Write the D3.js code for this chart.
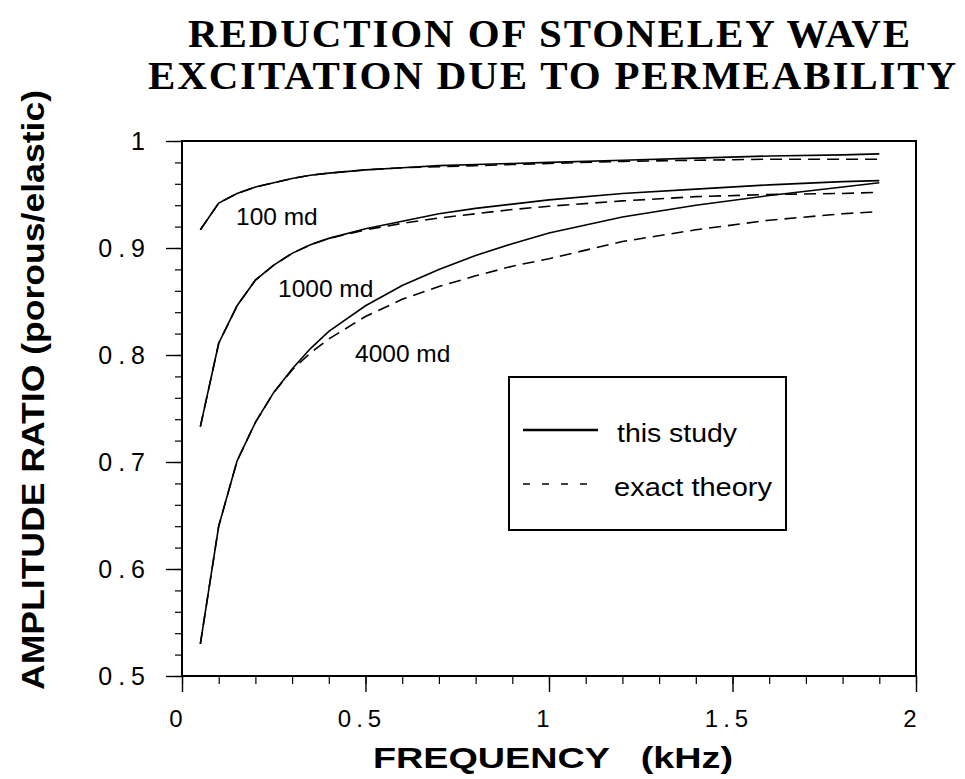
<!DOCTYPE html>
<html><head><meta charset="utf-8">
<script src="https://cdn.jsdelivr.net/npm/d3@7"></script>
<style>body{margin:0;background:#fff}</style>
</head><body>
<svg id="c" width="965" height="779"></svg>
<script>
// ---- data ----
const freqSolid = [0.05,0.1,0.15,0.2,0.25,0.3,0.35,0.4,0.5,0.6,0.7,0.8,0.9,1.0,1.2,1.4,1.6,1.8,1.9];
const md100Study  = [0.917,0.942,0.951,0.957,0.961,0.965,0.968,0.970,0.973,0.975,0.977,0.978,0.979,0.980,0.982,0.984,0.986,0.987,0.988];
const md100Exact  = [0.917,0.942,0.951,0.957,0.961,0.965,0.968,0.970,0.973,0.975,0.976,0.977,0.978,0.979,0.981,0.982,0.983,0.983,0.983];
const md1000Study = [0.733,0.811,0.846,0.870,0.884,0.895,0.903,0.909,0.918,0.925,0.932,0.937,0.941,0.945,0.951,0.955,0.959,0.962,0.963];
const md1000Exact = [0.733,0.811,0.846,0.870,0.884,0.895,0.903,0.909,0.917,0.923,0.928,0.932,0.936,0.939,0.944,0.948,0.950,0.951,0.952];
const md4000Study = [0.530,0.640,0.701,0.737,0.765,0.787,0.806,0.822,0.846,0.865,0.880,0.893,0.904,0.914,0.929,0.940,0.949,0.957,0.961];
const md4000Exact = [0.530,0.640,0.701,0.737,0.765,0.786,0.802,0.815,0.836,0.852,0.864,0.874,0.883,0.890,0.906,0.917,0.926,0.932,0.934];
const curveLabels = ["100 md","1000 md","4000 md"];
const xTicks = [0,0.5,1,1.5,2];
const xTickLabels = ["0","0.5","1","1.5","2"];
const yTicks = [0.5,0.6,0.7,0.8,0.9,1];
const yTickLabels = ["0.5","0.6","0.7","0.8","0.9","1"];
const legendLabels = ["this study","exact theory"];
const titleLines = ["REDUCTION OF STONELEY WAVE","EXCITATION DUE TO PERMEABILITY"];
const xTitle = "FREQUENCY   (kHz)";
const yTitle = "AMPLITUDE RATIO (porous/elastic)";

// ---- layout ----
const svg = d3.select("#c");
const L=182, R=916, T=141, B=676;
const x = d3.scaleLinear().domain([0,2]).range([L,R]);
const y = d3.scaleLinear().domain([0.5,1]).range([B,T]);
const sans = "'Liberation Sans', Arial, Helvetica, sans-serif";
const serif = "'Liberation Serif', 'Times New Roman', serif";

// title
const tpos = [{x1:188,x2:910,y:47},{x1:148,x2:956,y:89}];
titleLines.forEach((t,i)=>{
  svg.append("text").attr("x",tpos[i].x1).attr("y",tpos[i].y)
    .attr("font-family",serif).attr("font-weight","bold").attr("font-size",41)
    .attr("textLength",tpos[i].x2-tpos[i].x1).attr("lengthAdjust","spacing")
    .text(t);
});

// frame
svg.append("rect").attr("x",L).attr("y",T).attr("width",R-L).attr("height",B-T)
  .attr("fill","none").attr("stroke","#000").attr("stroke-width",2);

// x axis ticks
const xAxis = d3.axisBottom(x).tickValues(d3.range(0,2.0001,0.1)).tickSize(8).tickFormat("");
const gx = svg.append("g").attr("transform",`translate(0,${B})`).call(xAxis);
gx.select(".domain").remove();
gx.selectAll(".tick line").attr("stroke-width",1.2);
const gxM = svg.append("g").attr("transform",`translate(0,${B})`)
  .call(d3.axisBottom(x).tickValues(xTicks).tickSize(16).tickFormat((d,i)=>xTickLabels[i]));
gxM.select(".domain").remove();
gxM.selectAll(".tick line").attr("stroke-width",1.4);
gxM.selectAll(".tick text").attr("font-family",sans).attr("font-size",24)
  .attr("letter-spacing","5px").attr("dy",0).attr("y",51).attr("x",-4).attr("fill","#000");

// y axis ticks
const gy = svg.append("g").attr("transform",`translate(${L},0)`)
  .call(d3.axisLeft(y).tickValues(d3.range(0.5,1.0001,0.02)).tickSize(7).tickFormat(""));
gy.select(".domain").remove();
gy.selectAll(".tick line").attr("stroke-width",1.2);
const gyM = svg.append("g").attr("transform",`translate(${L},0)`)
  .call(d3.axisLeft(y).tickValues(yTicks).tickSize(16).tickFormat((d,i)=>yTickLabels[i]));
gyM.select(".domain").remove();
gyM.selectAll(".tick line").attr("stroke-width",1.4);
gyM.selectAll(".tick text").attr("font-family",sans).attr("font-size",25)
  .attr("letter-spacing","6px").attr("x",-31).attr("dy","0.35em").attr("fill","#000");

// axis titles
svg.append("text").attr("x",553).attr("y",768).attr("text-anchor","middle")
  .attr("font-family",sans).attr("font-weight","bold").attr("font-size",30)
  .attr("textLength",360).attr("lengthAdjust","spacingAndGlyphs")
  .attr("xml:space","preserve").style("white-space","pre").text(xTitle);
svg.append("text").attr("transform","translate(44,390) rotate(-90)").attr("text-anchor","middle")
  .attr("font-family",sans).attr("font-weight","bold").attr("font-size",32)
  .attr("textLength",600).attr("lengthAdjust","spacingAndGlyphs").text(yTitle);

// curves
const line = d3.line().x((d,i)=>x(freqSolid[i])).y(d=>y(d));
const series = [
  {v:md100Study,dash:null},{v:md100Exact,dash:"12,7"},
  {v:md1000Study,dash:null},{v:md1000Exact,dash:"12,7"},
  {v:md4000Study,dash:null},{v:md4000Exact,dash:"12,7"}
];
series.forEach(s=>{
  svg.append("path").attr("d",line(s.v)).attr("fill","none").attr("stroke","#000")
    .attr("stroke-width",1.6).attr("stroke-dasharray",s.dash);
});

// curve labels
const lpos = [{x:236,y:225},{x:278,y:297},{x:355,y:362}];
curveLabels.forEach((t,i)=>{
  svg.append("text").attr("x",lpos[i].x).attr("y",lpos[i].y)
    .attr("font-family",sans).attr("font-size",24.5).text(t);
});

// legend
svg.append("rect").attr("x",509).attr("y",377).attr("width",277).attr("height",153)
  .attr("fill","#fff").attr("stroke","#000").attr("stroke-width",2);
const legY = [430,484];
legendLabels.forEach((t,i)=>{
  svg.append("line").attr("x1",523).attr("x2",598).attr("y1",legY[i]).attr("y2",legY[i])
    .attr("stroke","#000").attr("stroke-width",i===0?2.4:1.6)
    .attr("stroke-dasharray",i===0?null:"7,12");
  svg.append("text").attr("x",i===0?617:614).attr("y",legY[i]+12)
    .attr("font-family",sans).attr("font-size",26)
    .attr("textLength",i===0?120:158).attr("lengthAdjust","spacingAndGlyphs").text(t);
});
</script>
</body></html>
